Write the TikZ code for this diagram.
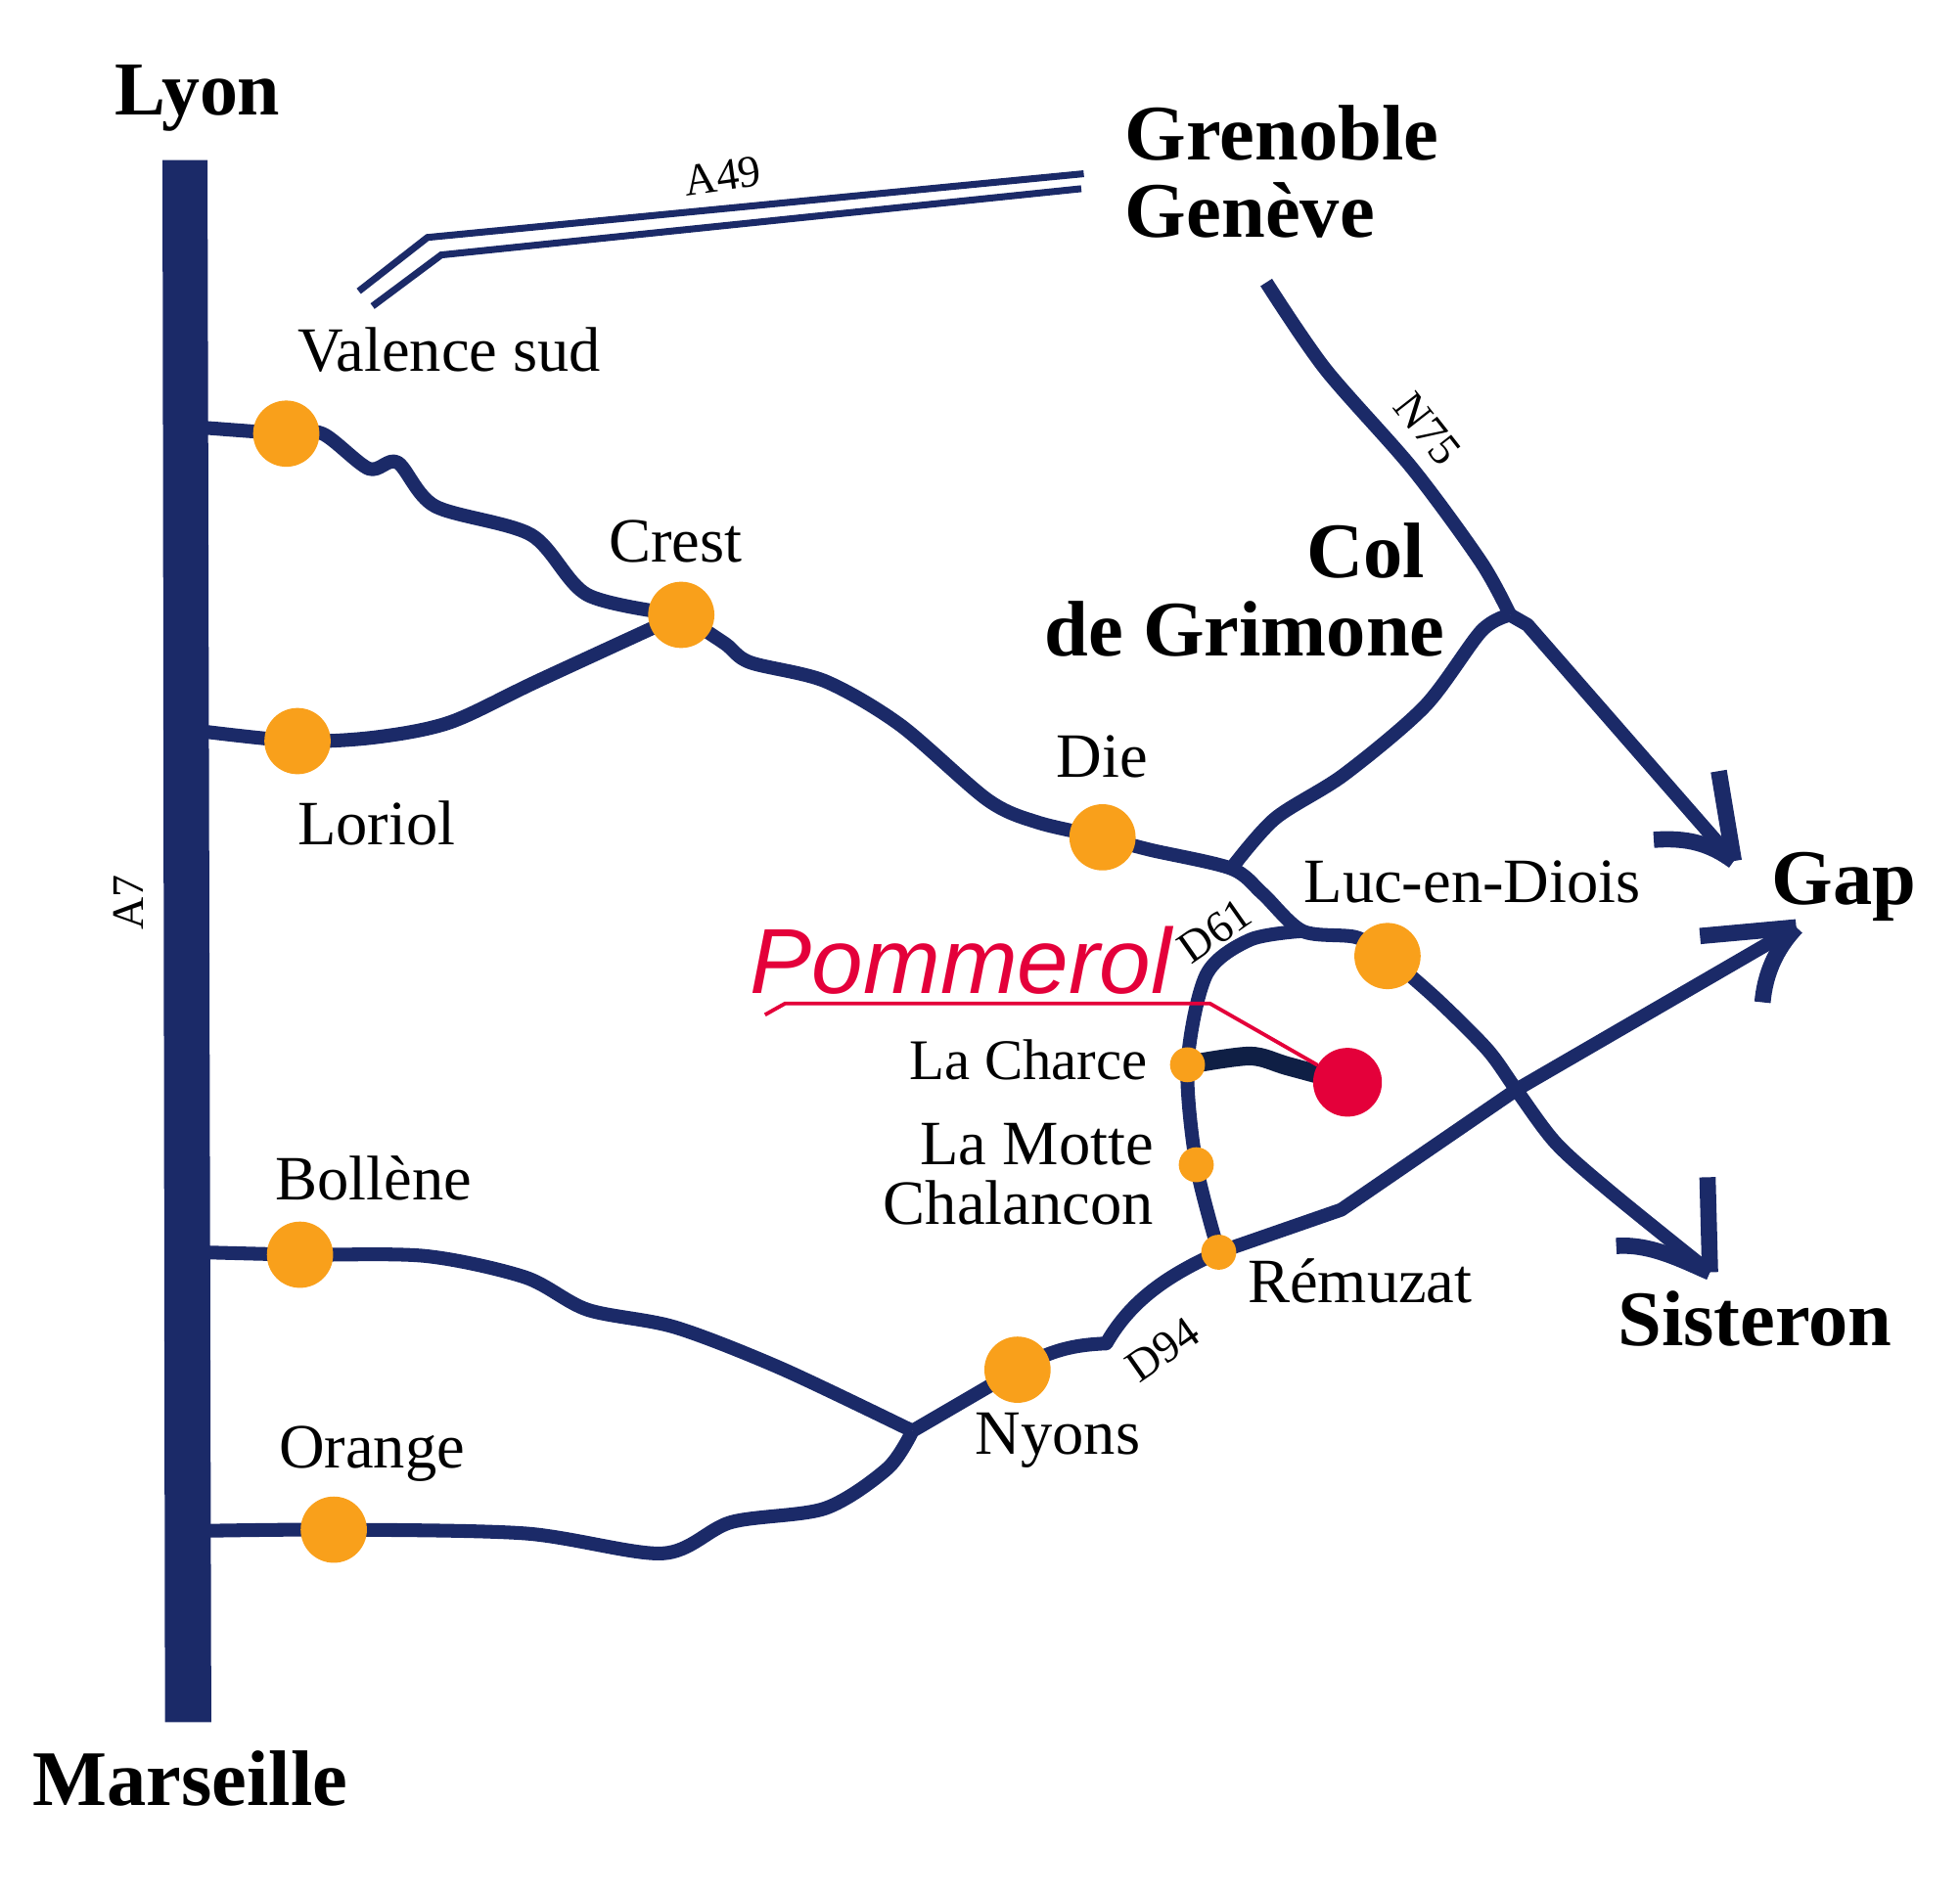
\documentclass[tikz,border=0pt]{standalone}
\usepackage{fontspec}
\setmainfont{Liberation Serif}
\newfontfamily\handfont{Liberation Sans}
\usetikzlibrary{backgrounds}
\definecolor{roadblue}{HTML}{1B2A68}
\definecolor{darkroad}{HTML}{0F1F45}
\definecolor{dotorange}{HTML}{F9A01B}
\definecolor{pomred}{HTML}{E4003A}
\tikzset{
  road/.style={draw=roadblue,line width=11pt,line join=round},
  thinroad/.style={draw=roadblue,line width=5.5pt,line join=miter},
  barb/.style={draw=roadblue,line width=13pt,line join=round},
  bigdot/.style={circle,fill=dotorange,minimum size=53pt,inner sep=0pt},
  smalldot/.style={circle,fill=dotorange,minimum size=28pt,inner sep=0pt},
  reddot/.style={circle,fill=pomred,minimum size=55pt,inner sep=0pt},
  city/.style={font=\bfseries\fontsize{63}{63}\selectfont,inner sep=0pt,text=black},
  town/.style={font=\fontsize{50.5}{50.5}\selectfont,inner sep=0pt,text=black},
  roadlabel/.style={font=\fontsize{36}{36}\selectfont,inner sep=0pt,text=black},
}
\begin{document}
\begin{tikzpicture}[x=1pt,y=-1pt]
\useasboundingbox (0,0) rectangle (1568,1514.8);

% towns
\node[bigdot] (valence) at (229,347) {};
\node[bigdot] (crest) at (545,492) {};
\node[bigdot] (loriol) at (238,593) {};
\node[bigdot] (die) at (882,670) {};
\node[bigdot] (luc) at (1110,765) {};
\node[bigdot] (bollene) at (240,1004) {};
\node[bigdot] (orange) at (267,1224) {};
\node[bigdot] (nyons) at (814,1096) {};
\node[smalldot] (charce) at (950,852) {};
\node[smalldot] (motte) at (957,932) {};
\node[smalldot] (remuzat) at (975,1002) {};
\node[reddot] (pommerol) at (1078,866) {};

% junctions and free ends
\coordinate (a7v) at (160,342);
\coordinate (a7l) at (160,585);
\coordinate (a7b) at (160,1002);
\coordinate (a7o) at (160,1225);
\coordinate (jcol) at (985,695);
\coordinate (jd) at (1042,745);
\coordinate (jn) at (1208,492);
\coordinate (jx) at (1213,872);
\coordinate (jm) at (730,1145);
\coordinate (gapa) at (1387,689);
\coordinate (gapb) at (1437,742);
\coordinate (sist) at (1368,1018);
\coordinate (nstart) at (1013,226);
\coordinate (aua) at (287,233);
\coordinate (aub) at (342,190);
\coordinate (auc) at (867,139);
\coordinate (ala) at (298,245);
\coordinate (alb) at (353,204);
\coordinate (alc) at (865,151);

\begin{pgfonlayer}{background}
  % A7 motorway
  \fill[roadblue] (130,128) -- (166,128) -- (169,1378) -- (132,1378) -- cycle;
  % A49
  \draw[thinroad] (aua) -- (aub) -- (auc);
  \draw[thinroad] (ala) -- (alb) -- (alc);
  % roads
  \draw[road] plot[smooth,tension=0.5] coordinates {(a7v) (valence.center) (258,347) (295,375) (318,370) (348,405) (425,428) (470,476) (crest.center)};
  \draw[road] plot[smooth,tension=0.5] coordinates {(a7l) (loriol.center) (300,590) (360,578) (430,545) (crest.center)};
  \draw[road] plot[smooth,tension=0.5] coordinates {(crest.center) (580,515) (600,530) (660,545) (720,580) (790,640) (830,658) (die.center) (920,680) (jcol) (1010,715) (jd) (1085,750) (luc.center)};
  \draw[road] plot[smooth,tension=0.5] coordinates {(luc.center) (1150,800) (1190,840) (jx) (1245,915) (1290,955) (sist)};
  \draw[road] plot[smooth,tension=0.5] coordinates {(nstart) (1060,295) (1130,375) (1185,450) (jn)};
  \draw[road] (jn) -- (1222,500) -- (gapa);
  \draw[road] plot[smooth,tension=0.5] coordinates {(jn) (1185,505) (1140,565) (1075,620) (1020,655) (jcol)};
  \draw[road] plot[smooth,tension=0.5] coordinates {(jd) (1000,752) (965,780) (charce.center) (motte.center) (remuzat.center)};
  \draw[road] (jm) -- (nyons.center) .. controls (840,1080) and (860,1076) .. (885,1075) .. controls (905,1040) and (935,1020) .. (remuzat.center);
  \draw[road] (remuzat.center) -- (1073,968) -- (jx) -- (gapb);
  \draw[road] plot[smooth,tension=0.5] coordinates {(a7b) (bollene.center) (340,1005) (420,1022) (470,1048) (540,1062) (625,1095) (jm)};
  \draw[road] plot[smooth,tension=0.5] coordinates {(a7o) (orange.center) (420,1227) (530,1243) (585,1218) (660,1207) (710,1175) (jm)};
  \draw[draw=darkroad,line width=15pt] plot[smooth,tension=0.5] coordinates {(charce.center) (1000,845) (1030,853) (pommerol.center)};
  % arrow barbs
  \draw[barb] (1375,617) -- (gapa);
  \draw[barb] (1323,672) .. controls (1350,670) and (1368,675) .. (gapa);
  \draw[barb] (1360,749) -- (gapb);
  \draw[barb] (1410,802) .. controls (1412,780) and (1420,760) .. (gapb);
  \draw[barb] (1366,942) -- (sist);
  \draw[barb] (1293,997) .. controls (1320,995) and (1345,1008) .. (sist);
\end{pgfonlayer}

% Pommerol pointer
\coordinate (pa) at (612,812);
\coordinate (pb) at (628,803);
\coordinate (pc) at (968,803);
\draw[draw=pomred,line width=3pt] (pa) -- (pb) -- (pc) -- (pommerol);

% labels
\node[city,anchor=base,font=\bfseries\fontsize{61}{61}\selectfont] (lyon) at (158,92) {Lyon};
\node[city,anchor=base west] (grenoble) at (900,128) {Grenoble};
\node[city,anchor=base west] (geneve) at (900,190) {Genève};
\node[city,anchor=base east] (col) at (1140,462) {Col};
\node[city,anchor=base east] (grimone) at (1156,525) {de Grimone};
\node[city,anchor=base west] (gap) at (1417,724) {Gap};
\node[city,anchor=base west] (sisteron) at (1294,1077) {Sisteron};
\node[city,anchor=base west] (marseille) at (26,1445) {Marseille};

\node[town,anchor=base west] (tv) at (238,297) {Valence sud};
\node[town,anchor=base west] (tc) at (487,450) {Crest};
\node[town,anchor=base west] (tl) at (238,676) {Loriol};
\node[town,anchor=base west] (td) at (845,622) {Die};
\node[town,anchor=base west] (tlu) at (1043,722) {Luc-en-Diois};
\node[town,anchor=base east,font=\fontsize{46}{46}\selectfont] (tch) at (918,864) {La Charce};
\node[town,anchor=base east] (tm) at (923,932) {La Motte};
\node[town,anchor=base east] (tcl) at (923,980) {Chalancon};
\node[town,anchor=base west] (tr) at (998,1042) {Rémuzat};
\node[town,anchor=base west] (tn) at (780,1164) {Nyons};
\node[town,anchor=base west] (tb) at (220,960) {Bollène};
\node[town,anchor=base west] (to) at (223,1175) {Orange};

\node[roadlabel,rotate=8] (la49) at (578,141) {A49};
\node[roadlabel,rotate=-52] (ln75) at (1142,343) {N75};
\node[roadlabel,rotate=35] (ld61) at (972,745) {D61};
\node[roadlabel,rotate=35] (ld94) at (930,1080) {D94};
\node[roadlabel,rotate=90] (la7) at (103,722) {A7};

\node[anchor=base west,inner sep=0pt,text=pomred,font=\handfont\itshape\fontsize{74}{74}\selectfont] (ptext) at (600,795) {Pommerol};
\end{tikzpicture}
\end{document}
